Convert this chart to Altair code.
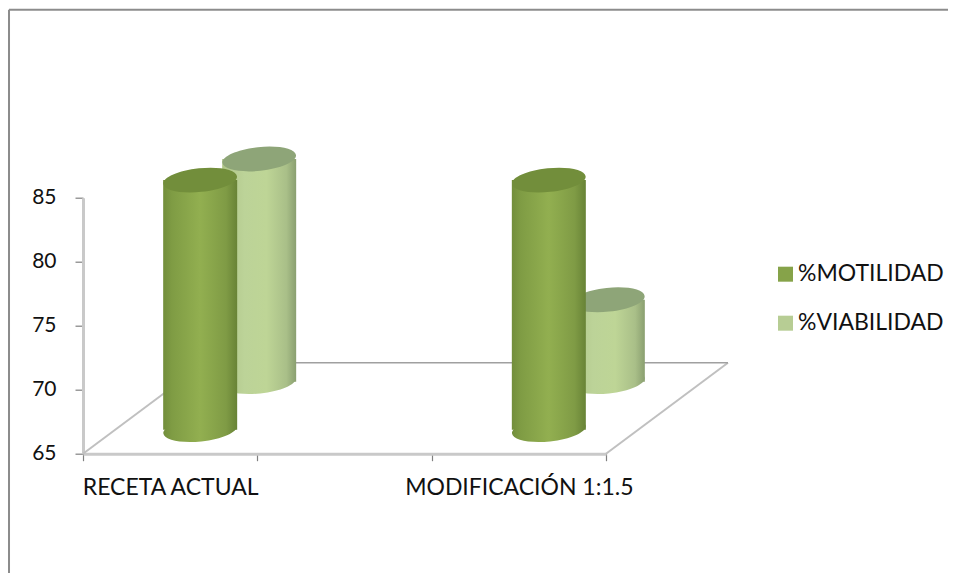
import altair as alt
import pandas as pd

categories = ["RECETA ACTUAL", " ", "MODIFICACIÓN 1:1.5"]
present = ["RECETA ACTUAL", "MODIFICACIÓN 1:1.5"]
motilidad = [84.5, 84.5]
viabilidad = [82.4, 71.4]
series = ["%MOTILIDAD", "%VIABILIDAD"]
y_ticks = [65, 70, 75, 80, 85]

FONT = "Lato"
df_m = pd.DataFrame({"cat": present, "val": motilidad, "series": series[0]})
df_v = pd.DataFrame({"cat": present, "val": viabilidad, "series": series[1]})
df_all = pd.concat([df_m, df_v])

x_axis = alt.Axis(labelAngle=0, labelFont=FONT, labelFontSize=23, labelColor="#111111", title=None,
                  labelPadding=16, labelLimit=0, labelOverlap=False, tickBand="extent",
                  tickSize=7, tickColor="#808080", tickWidth=1.2,
                  domainColor="#c9c9c9", domainWidth=3, grid=False)
y_axis = alt.Axis(values=y_ticks, labelFont=FONT, labelFontSize=21, labelColor="#111111", title=None,
                  labelPadding=19, tickSize=8, tickColor="#808080", tickWidth=1.2,
                  domainColor="#c9c9c9", domainWidth=3, grid=False)
x_scale = alt.Scale(domain=categories, paddingInner=0, paddingOuter=0)
y_scale = alt.Scale(domain=[65, 85], zero=False, nice=False)
x_enc = alt.X("cat:N", title=None, sort=categories, scale=x_scale, axis=x_axis)
y_enc = alt.Y("val:Q", title=None, scale=y_scale, axis=y_axis)


def grad(stops):
    return alt.LinearGradient(
        gradient="linear", x1=0, x2=1, y1=0, y2=0,
        stops=[alt.GradientStop(offset=o, color=c) for o, c in stops])


ELLIPSE = "M-0.995,0.105A1,0.32,-6,1,1,0.995,-0.105A1,0.32,-6,1,1,-0.995,0.105Z"
SIZE = 74 * 74


def cylinder(df, body, cap, dx, dy):
    base = alt.Chart(df)
    bottom = base.mark_point(shape=ELLIPSE, size=SIZE, filled=True, fill=body, opacity=1,
                             strokeWidth=0, xOffset=dx, yOffset=dy
                             ).encode(x=x_enc, y=alt.Y(datum=65, title=None, scale=y_scale, axis=y_axis))
    bar = base.mark_bar(size=74, fill=body, xOffset=dx, yOffset=dy, y2Offset=dy
                        ).encode(x=x_enc, y=y_enc, y2=alt.datum(65))
    top = base.mark_point(shape=ELLIPSE, size=SIZE, filled=True, fill=cap, opacity=1, strokeWidth=0,
                          xOffset=dx, yOffset=dy).encode(x=x_enc, y=y_enc)
    return [bottom, bar, top]


front_body = grad([(0, "#728e3b"), (0.12, "#7f9c44"), (0.5, "#92af50"), (0.85, "#7f9b45"), (1, "#688336")])
back_body = grad([(0, "#aec488"), (0.3, "#bcd398"), (0.6, "#bed596"), (0.87, "#a9bf88"), (1, "#8a9f70")])

helper = pd.DataFrame({"k": [0]})


def rule(x, x2, y, y2, color, width):
    return alt.Chart(helper).mark_rule(color=color, strokeWidth=width).encode(
        x=alt.value(x), x2=alt.value(x2), y=alt.value(y), y2=alt.value(y2))


axes = alt.Chart(df_all).mark_point(opacity=0, size=0).encode(x=x_enc, y=y_enc)
legend = alt.Chart(df_all).mark_point(filled=True, size=0, opacity=1).encode(
    x=x_enc, y=y_enc,
    color=alt.Color("series:N", title=None,
                    scale=alt.Scale(domain=series, range=["#86a349", "#b7cd94"]),
                    legend=alt.Legend(orient="none", legendX=691, legendY=65,
                                      symbolType="square", symbolSize=225, symbolStrokeWidth=0,
                                      labelFont=FONT, labelFontSize=23, labelColor="#111111",
                                      rowPadding=25, labelOffset=1, padding=0, labelLimit=0)))

layers = [
    rule(-74, 865, -188, -188, "#8c8c8c", 2),
    rule(-74, -74, -188, 377, "#8c8c8c", 2),
    axes,
    rule(0, 122, 256, 165, "#c0c0c0", 2),
    rule(523, 645, 256, 165, "#c0c0c0", 2),
    rule(122, 645, 165, 165, "#a0a0a0", 1.5),
    legend,
] + cylinder(df_v, back_body, "#8ea578", 89, -72) + cylinder(df_m, front_body, "#728e3b", 30, -24)

chart = alt.layer(*layers).properties(
    width=523, height=256,
    padding={"left": 75, "top": 189.7, "right": 342, "bottom": 119},
    autosize=alt.AutoSizeParams(type="none"),
).configure_view(stroke=None).resolve_scale(x="shared", y="shared")

chart.save("out.html", embed_options={"renderer": "svg", "actions": False})
